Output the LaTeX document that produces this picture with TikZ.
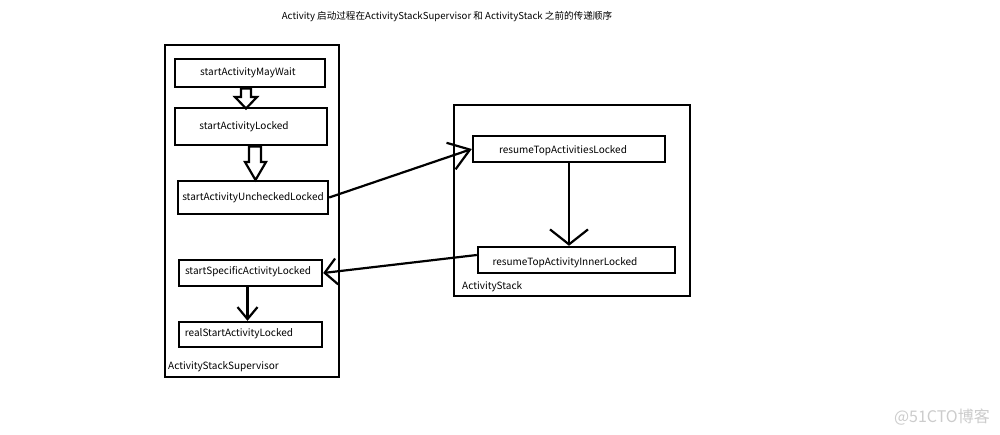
\documentclass[tikz,border=0pt]{standalone}
\usepackage{fontspec}
\newfontfamily\cjk{Noto Sans CJK SC}
\usetikzlibrary{arrows.meta}
\tikzset{
  box/.style={draw=black,line width=2.4pt,inner sep=0pt},
  txt/.style={font=\cjk\fontsize{10}{12}\selectfont,inner sep=0pt,text=black},
  conn/.style={draw=black,line width=2.2pt},
  blockarrow/.style={draw=black,line width=2.2pt,fill=white,line join=miter},
}
\begin{document}
\begin{tikzpicture}[x=1pt,y=-1pt]
\useasboundingbox[fill=white] (0,0) rectangle (1000,435);
% title
\node[txt,font=\cjk\fontsize{9.6}{11}\selectfont] (title) at (447,17) {Activity 启动过程在ActivityStackSupervisor 和 ActivityStack 之前的传递顺序};
% containers
\node[box,minimum width=174pt,minimum height=332pt] (sup) at (252,211) {};
\node[txt,anchor=west] (suplbl) at (168,367) {ActivityStackSupervisor};
\node[box,minimum width=236pt,minimum height=191pt] (stk) at (572,200.5) {};
\node[txt,anchor=west] (stklbl) at (462,287) {ActivityStack};
% inner boxes
\node[box,minimum width=150pt,minimum height=28pt] (maywait) at (250,73) {};
\node[txt] (maywaitT) at (248,73) {startActivityMayWait};
\node[box,minimum width=152pt,minimum height=37pt] (locked) at (251,126.5) {};
\node[txt] (lockedT) at (244,127) {startActivityLocked};
\node[box,minimum width=150pt,minimum height=33pt] (unchecked) at (253,197.5) {};
\node[txt] (uncheckedT) at (253,198) {startActivityUncheckedLocked};
\node[box,minimum width=143pt,minimum height=26pt] (specific) at (250.5,273) {};
\node[txt] (specificT) at (248,272) {startSpecificActivityLocked};
\node[box,minimum width=143pt,minimum height=25pt] (real) at (250.5,334.5) {};
\node[txt] (realT) at (239,334) {realStartActivityLocked};
\node[box,minimum width=192pt,minimum height=26pt] (resumeTop) at (569,149) {};
\node[txt] (resumeTopT) at (563,151) {resumeTopActivitiesLocked};
\node[box,minimum width=197pt,minimum height=26pt] (inner) at (576.5,260) {};
\node[txt] (innerT) at (565,263) {resumeTopActivityInnerLocked};
% hollow block arrows
\draw[blockarrow] (241,88.5) -- (251,88.5) -- (251,97) -- (257,97) -- (246,108.5) -- (235,97) -- (241,97) -- cycle;
\draw[blockarrow] (249,146.5) -- (261,146.5) -- (261,162) -- (266,162) -- (255.5,180) -- (245,162) -- (249,162) -- cycle;
% connectors
\draw[conn,-{Straight Barb[length=20pt,width=28pt,line width=2.2pt]}] (unchecked.east) -- (resumeTop.west);
\draw[conn,-{Straight Barb[length=15pt,width=38pt,line width=2.2pt]}] (resumeTop.south) -- (inner.north -| resumeTop.south);
\draw[conn,-{Straight Barb[length=12pt,width=26pt,line width=2.2pt]}] ([yshift=5pt]inner.west) -- (specific.east);
\draw[conn,-{Straight Barb[length=12pt,width=20pt,line width=2.2pt]}] ([xshift=-3pt]specific.south) -- ([xshift=-3pt]real.north);
% watermark
\node[font=\cjk\fontsize{16}{18}\selectfont,text=black!20,anchor=east,inner sep=0pt] (wm) at (990,417) {@51CTO博客};
\end{tikzpicture}
\end{document}
